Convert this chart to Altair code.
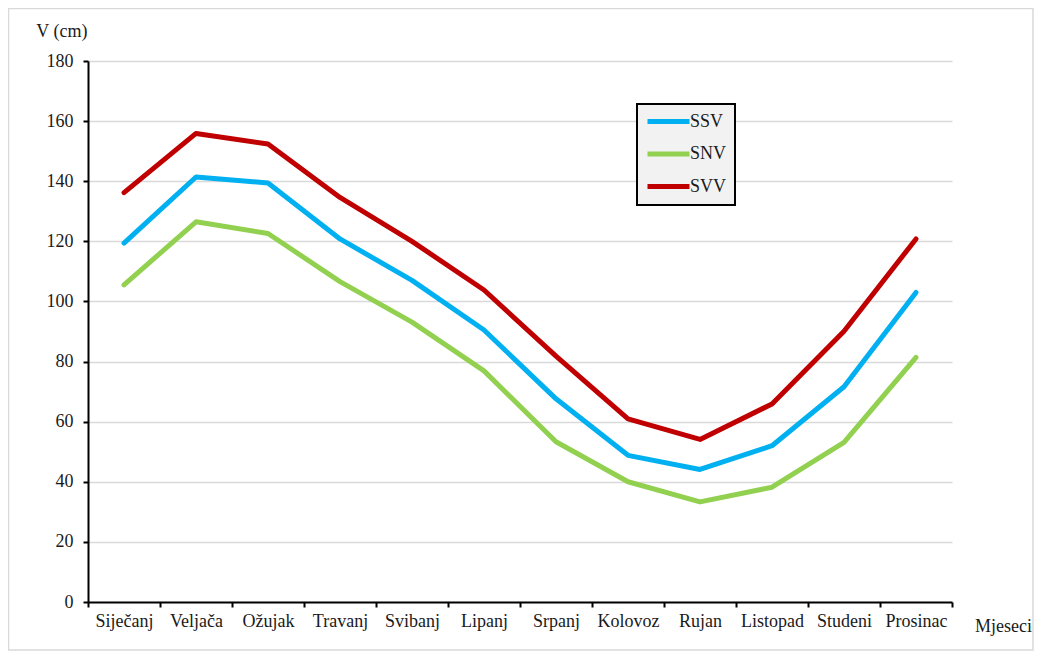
import altair as alt
import pandas as pd

months = ["Siječanj", "Veljača", "Ožujak", "Travanj", "Svibanj", "Lipanj",
          "Srpanj", "Kolovoz", "Rujan", "Listopad", "Studeni", "Prosinac"]
ssv = [119.4, 141.4, 139.4, 120.8, 107.0, 90.5, 67.6, 48.8, 44.1, 52.0, 71.6, 103.0]
snv = [105.5, 126.5, 122.6, 106.6, 93.1, 76.9, 53.3, 40.0, 33.3, 38.2, 53.1, 81.4]
svv = [136.2, 155.9, 152.4, 134.6, 120.0, 103.8, 81.8, 60.9, 54.1, 65.9, 90.1, 120.8]
series = ["SSV", "SNV", "SVV"]
colors = ["#00b0f0", "#92d050", "#c00000"]
y_ticks = [0, 20, 40, 60, 80, 100, 120, 140, 160, 180]

rows = []
for name, vals in zip(series, [ssv, snv, svv]):
    for i, (m, v) in enumerate(zip(months, vals)):
        rows.append({"Mjesec": m, "Serija": name, "V": v, "idx": i})
df = pd.DataFrame(rows)

FONT = "'Liberation Serif', 'Times New Roman', 'DejaVu Serif', serif"
TXT = "#1a1a1a"
FS = 18

frame = alt.Chart(pd.DataFrame({"k": [0]})).mark_rect(
    fill="white", fillOpacity=0, stroke="#d9d9d9", strokeWidth=1.5
).encode(
    x=alt.value(-79.5), x2=alt.value(945), y=alt.value(-52.5), y2=alt.value(589)
)

lines = alt.Chart(df).mark_line(strokeWidth=5, strokeCap="round", strokeJoin="round").encode(
    x=alt.X(
        "Mjesec:N", sort=months,
        scale=alt.Scale(type="band", paddingInner=0, paddingOuter=0),
        axis=alt.Axis(
            title="Mjeseci", titleX=915, titleY=24, titleAlign="center",
            titleBaseline="middle", titleFont=FONT, titleFontSize=FS,
            titleFontWeight="normal", titleColor=TXT,
            labelAngle=0, tickBand="extent", grid=False,
            domainColor="black", domainWidth=2, tickColor="black", tickWidth=2,
            tickSize=5, labelPadding=5, labelFont=FONT, labelFontSize=FS,
            labelColor=TXT,
        ),
    ),
    y=alt.Y(
        "V:Q", scale=alt.Scale(domain=[0, 180], nice=False),
        axis=alt.Axis(
            values=y_ticks, title="V (cm)", titleAngle=0, titleX=-1, titleY=-30,
            titleAlign="right", titleBaseline="middle", titleFont=FONT,
            titleFontSize=FS, titleFontWeight="normal", titleColor=TXT,
            grid=True, gridColor="#d9d9d9", gridWidth=1.5,
            domainColor="black", domainWidth=2, tickColor="black", tickWidth=2,
            tickSize=5, labelPadding=10, labelFont=FONT, labelFontSize=FS,
            labelColor=TXT,
        ),
    ),
    color=alt.Color(
        "Serija:N", scale=alt.Scale(domain=series, range=colors),
        legend=alt.Legend(
            title=None, orient="none", legendX=549, legendY=43,
            fillColor="#f2f2f2", strokeColor="black", padding=8,
            symbolType="M-1,0H5", symbolSize=196, symbolStrokeWidth=5,
            labelFont=FONT, labelFontSize=FS, labelColor=TXT,
            labelOffset=26, rowPadding=11.5,
        ),
    ),
    order=alt.Order("idx:Q"),
)

chart = alt.layer(frame, lines).properties(
    width=864, height=541,
    autosize=alt.AutoSizeParams(type="none"),
    padding={"left": 80, "top": 53, "right": 82, "bottom": 49},
).configure(
    font=FONT,
    view=alt.ViewConfig(stroke=None),
    legend=alt.LegendConfig(strokeWidth=2),
)

chart.save("out.html", embed_options={"renderer": "svg", "actions": False})
